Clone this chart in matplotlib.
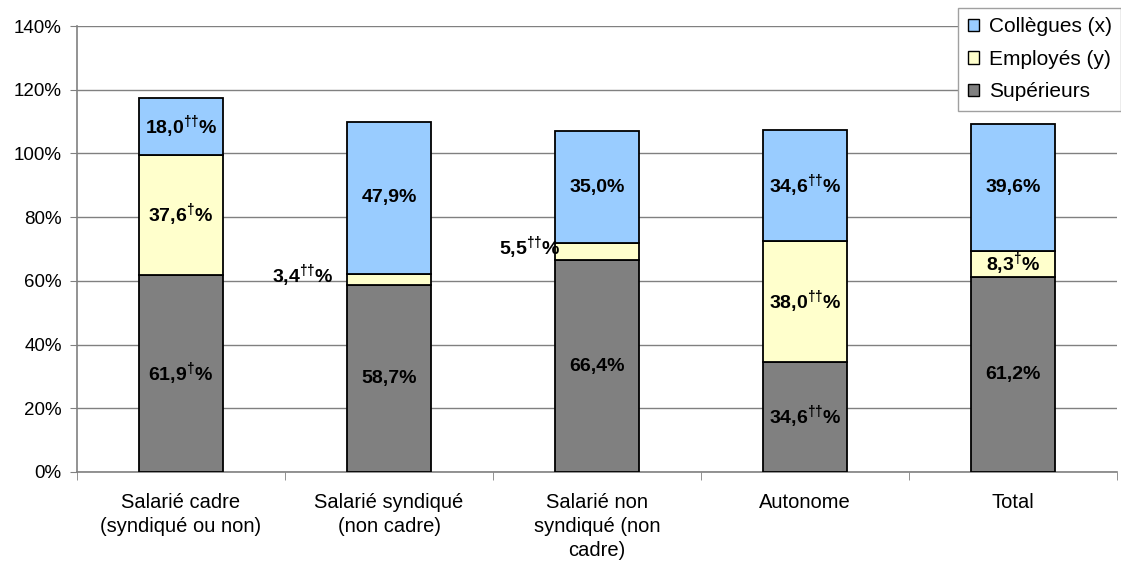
import matplotlib.pyplot as plt
import numpy as np
from matplotlib.patches import Patch

# Données : répartition par statut
categories = ["Salarié cadre\n(syndiqué ou non)", "Salarié syndiqué\n(non cadre)",
              "Salarié non\nsyndiqué (non\ncadre)", "Autonome", "Total"]
superieurs = [61.9, 58.7, 66.4, 34.6, 61.2]
employes = [37.6, 3.4, 5.5, 38.0, 8.3]
collegues = [18.0, 47.9, 35.0, 34.6, 39.6]

# Marques de signification (exposants)
sup_sig = ["†", "", "", "††", ""]
emp_sig = ["†", "††", "††", "††", "†"]
col_sig = ["††", "", "", "††", ""]

plt.rcParams['font.family'] = ['Liberation Sans', 'DejaVu Sans']
plt.rcParams['mathtext.fontset'] = 'custom'
plt.rcParams['mathtext.rm'] = 'Liberation Sans:bold'
plt.rcParams['mathtext.default'] = 'rm'

couleurs = {"sup": "#808080", "emp": "#FFFFCC", "col": "#99CCFF"}

fig = plt.figure(figsize=(11.21, 5.67), dpi=100)
ax = fig.add_axes([77 / 1121, 95 / 567, 1040 / 1121, 446 / 567])

x = np.arange(len(categories))
largeur = 0.4
kw = dict(width=largeur, edgecolor="black", linewidth=1.3, zorder=3)
ax.bar(x, superieurs, color=couleurs["sup"], **kw)
ax.bar(x, employes, bottom=superieurs, color=couleurs["emp"], **kw)
bas_col = np.array(superieurs) + np.array(employes)
ax.bar(x, collegues, bottom=bas_col, color=couleurs["col"], **kw)


def etiquette(v, sig):
    txt = f"{v:.1f}".replace(".", ",")
    if sig:
        txt += "$^{" + sig + "}$"
    return txt + "%"


taille = 14
# Étiquettes des segments
for i in range(len(categories)):
    ax.text(x[i], superieurs[i] / 2, etiquette(superieurs[i], sup_sig[i]),
            ha="center", va="center", fontsize=taille, fontweight="bold", zorder=4)
    ym = superieurs[i] + employes[i] / 2
    if employes[i] < 6:
        # segment trop petit : étiquette à gauche de la barre
        ax.annotate(etiquette(employes[i], emp_sig[i]), (x[i] - largeur / 2, ym),
                    xytext=(-10 if i == 1 else 4, 3), textcoords="offset points",
                    ha="right", va="center", fontsize=taille, fontweight="bold", zorder=4)
    else:
        ax.text(x[i], ym, etiquette(employes[i], emp_sig[i]),
                ha="center", va="center", fontsize=taille, fontweight="bold", zorder=4)
    ax.text(x[i], bas_col[i] + collegues[i] / 2, etiquette(collegues[i], col_sig[i]),
            ha="center", va="center", fontsize=taille, fontweight="bold", zorder=4)

ax.set_xlim(-0.5, len(categories) - 0.5)
ax.set_ylim(0, 140)
ax.set_yticks(np.arange(0, 141, 20))
ax.set_yticklabels([f"{v}%" for v in range(0, 141, 20)], fontsize=13.5)
ax.yaxis.grid(True, color="#808080", linewidth=1, zorder=0)
ax.set_axisbelow(True)

ax.set_xticks(x)
ax.set_xticklabels(categories, fontsize=14.5, linespacing=1.35)
ax.set_xticks(np.arange(-0.5, len(categories)), minor=True)
ax.tick_params(axis="x", which="major", length=0, pad=15)
ax.tick_params(axis="x", which="minor", length=6, color="#808080", direction="out")
ax.tick_params(axis="y", length=5, color="#808080", pad=6)

for s in ["top", "right"]:
    ax.spines[s].set_visible(False)
for s in ["left", "bottom"]:
    ax.spines[s].set_color("#808080")
    ax.spines[s].set_linewidth(1.2)

poignees = [Patch(facecolor=couleurs["col"], edgecolor="black"),
            Patch(facecolor=couleurs["emp"], edgecolor="black"),
            Patch(facecolor=couleurs["sup"], edgecolor="black")]
leg = fig.legend(poignees, ["Collègues (x)", "Employés (y)", "Supérieurs"],
                 loc="upper right", bbox_to_anchor=(1.0, 1 - 8 / 567),
                 fontsize=15, frameon=True, fancybox=False, framealpha=1,
                 handlelength=0.55, handleheight=0.55, handletextpad=0.45,
                 labelspacing=0.65, borderpad=0.45, borderaxespad=0)
leg.get_frame().set_edgecolor("#A0A0A0")
leg.get_frame().set_linewidth(1)

fig.savefig("out.png", dpi=100)
